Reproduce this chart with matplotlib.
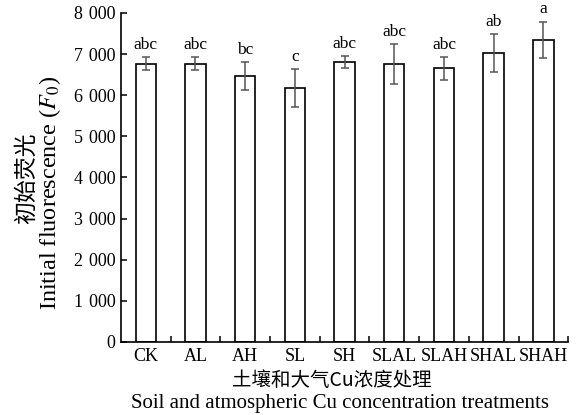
import numpy as np
import matplotlib.pyplot as plt
from matplotlib.ticker import FixedLocator

# Data
treatments = ["CK", "AL", "AH", "SL", "SH", "SLAL", "SLAH", "SHAL", "SHAH"]
f0_mean = [6760, 6760, 6470, 6170, 6800, 6760, 6650, 7030, 7350]
f0_err = [155, 155, 335, 470, 150, 480, 280, 460, 440]
letters = ["abc", "abc", "bc", "c", "abc", "abc", "abc", "ab", "a"]
yticks = [0, 1000, 2000, 3000, 4000, 5000, 6000, 7000, 8000]

plt.rcParams['font.family'] = ['Liberation Serif', 'Noto Sans CJK SC']
plt.rcParams['mathtext.fontset'] = 'stix'

fig = plt.figure(figsize=(5.84, 4.15), dpi=100)
ax = fig.add_axes([0.207, 0.176, 0.766, 0.793])

x = np.arange(len(treatments)) + 0.5
ax.bar(x, f0_mean, width=0.41, color='white', edgecolor='black', linewidth=1.2, zorder=2)
ax.errorbar(x, f0_mean, yerr=f0_err, fmt='none', ecolor='#555555', elinewidth=1.1,
            capsize=3, capthick=1.1, zorder=3)

for xi, m, e, lab in zip(x, f0_mean, f0_err, letters):
    ax.annotate(lab, (xi, m + e), xytext=(0, 3), textcoords='offset points',
                ha='center', va='bottom', fontsize=12.5, annotation_clip=False)

ax.set_xlim(0, len(treatments))
ax.set_ylim(0, 8000)

# x axis: labels at the bar centres, small inward ticks between groups
ax.set_xticks(x)
ax.set_xticklabels(treatments, fontsize=13)
ax.tick_params(axis='x', which='major', length=0, pad=4)
ax.xaxis.set_minor_locator(FixedLocator(np.arange(1, len(treatments) + 1)))
ax.tick_params(axis='x', which='minor', direction='in', length=4, width=1.1)

ax.set_yticks(yticks)
ax.set_yticklabels([f"{v:,}".replace(",", "\u2004") for v in yticks], fontsize=13)
ax.tick_params(axis='y', direction='in', length=4, width=1.1, pad=4)

for side in ['top', 'right']:
    ax.spines[side].set_visible(False)
for side in ['left', 'bottom']:
    ax.spines[side].set_linewidth(1.2)

# axis titles (two lines, Chinese + English)
fig.text(0.569, 0.083, "土壤和大气Cu浓度处理", ha='center', va='center', fontsize=14,
         family=['Noto Sans CJK SC', 'Liberation Serif'])
fig.text(0.583, 0.028, "Soil and atmospheric Cu concentration treatments",
         ha='center', va='center', fontsize=15)
fig.text(0.046, 0.571, "初始荧光", ha='center', va='center', rotation=90, fontsize=16.5,
         family=['Noto Sans CJK SC', 'Liberation Serif'])
fig.text(0.086, 0.535, "Initial fluorescence ($F_0$)", ha='center', va='center',
         rotation=90, fontsize=17.5)

fig.savefig("out.png", dpi=100)
